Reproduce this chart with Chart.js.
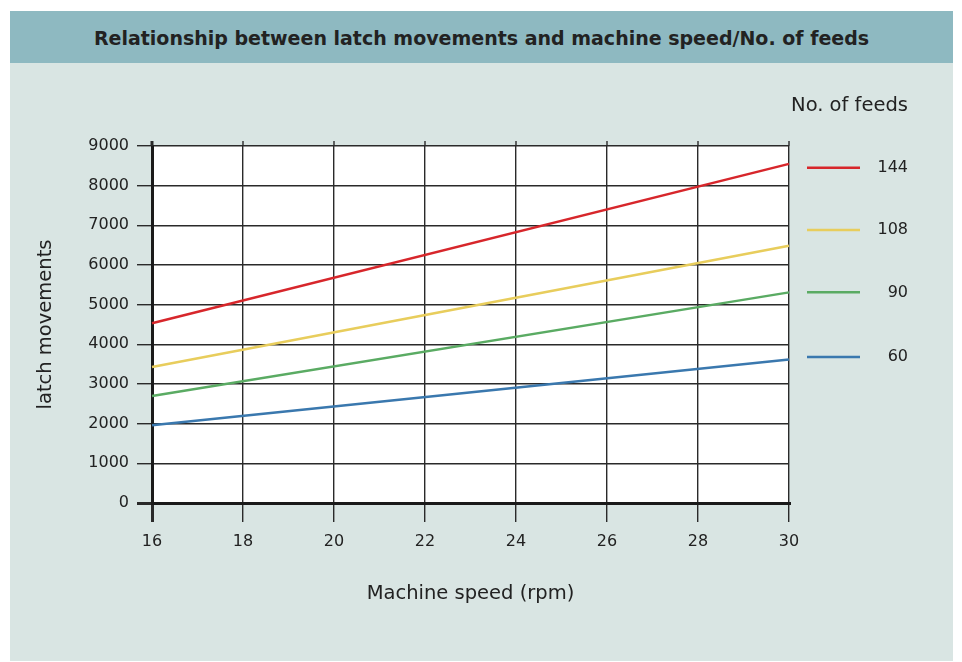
<!DOCTYPE html>
<html>
<head>
<meta charset="utf-8">
<script src="https://cdn.jsdelivr.net/npm/chart.js@4/dist/chart.umd.min.js"></script>
<style>
	body { margin: 0; background: #ffffff; }
	#panel { position: absolute; left: 10px; top: 11px; width: 943px; height: 650px; background: #d9e5e3; }
	#title-band { position: absolute; left: 0; top: 0; width: 943px; height: 52px; background: #8eb9c1;
		font: bold 19px 'DejaVu Sans', sans-serif; color: #222222; text-align: center; line-height: 54px; }
	#chart-wrap { position: absolute; left: 0; top: 0; width: 962px; height: 662px; }
</style>
</head>
<body>
<div id="panel"><div id="title-band">Relationship between latch movements and machine speed/No. of feeds</div></div>
<div id="chart-wrap"><canvas id="latch-canvas" width="962" height="662"></canvas></div>
<script>
let speeds = [16, 30];
let feed_labels = ['144', '108', '90', '60'];
let latch_144 = [4530, 8550];
let latch_108 = [3430, 6485];
let latch_90 = [2700, 5310];
let latch_60 = [1960, 3620];
let series_values = [latch_144, latch_108, latch_90, latch_60];
let line_colors = ['#d7262b', '#e8cd5c', '#5aab63', '#3a78ae'];
let x_ticks = [16, 18, 20, 22, 24, 26, 28, 30];
let y_ticks = [0, 1000, 2000, 3000, 4000, 5000, 6000, 7000, 8000, 9000];
// legend rows sit at these values on the y scale
let legend_levels = [8450, 6880, 5310, 3680];

let font_family = "'DejaVu Sans', sans-serif";
let text_color = '#222222';

let datasets = [];
for (var i = 0; i < series_values.length; i++) {
	datasets.push({
		label: feed_labels[i],
		data: speeds.map((s, j) => ({x: s, y: series_values[i][j]})),
		borderColor: line_colors[i],
		backgroundColor: line_colors[i],
		borderWidth: 2.5,
		pointRadius: 0,
		clip: false
	});
}

//white plot area, grid extensions and the side legend
let plot_extras = {
	id: 'plotExtras',
	beforeDraw: function(chart) {
		let a = chart.chartArea;
		let ctx = chart.ctx;
		ctx.save();
		ctx.fillStyle = '#ffffff';
		ctx.fillRect(a.left, a.top, a.right - a.left, a.bottom - a.top);
		ctx.restore();
	},
	afterDraw: function(chart) {
		let a = chart.chartArea;
		let ctx = chart.ctx;
		let xs = chart.scales.x;
		let ys = chart.scales.y;
		ctx.save();
		ctx.strokeStyle = '#2a2a2a';
		for (var i = 0; i < x_ticks.length; i++) {
			let px = xs.getPixelForValue(x_ticks[i]);
			ctx.lineWidth = (i == 0) ? 3 : 1.4;
			ctx.beginPath();
			ctx.moveTo(px, a.top - 5);
			ctx.lineTo(px, a.top);
			ctx.stroke();
		}
		ctx.fillStyle = text_color;
		ctx.font = '19.5px ' + font_family;
		ctx.textAlign = 'right';
		ctx.textBaseline = 'middle';
		ctx.fillText('No. of feeds', a.right + 119, 106);
		ctx.font = '16px ' + font_family;
		for (var i = 0; i < feed_labels.length; i++) {
			let py = ys.getPixelForValue(legend_levels[i]);
			ctx.strokeStyle = line_colors[i];
			ctx.lineWidth = 2.5;
			ctx.beginPath();
			ctx.moveTo(a.right + 18, py);
			ctx.lineTo(a.right + 71, py);
			ctx.stroke();
			ctx.fillText(feed_labels[i], a.right + 119, py);
		}
		ctx.restore();
	}
};

let chart = new Chart(document.getElementById('latch-canvas').getContext('2d'), {
	type: 'line',
	data: { datasets: datasets },
	plugins: [plot_extras],
	options: {
		responsive: false,
		animation: false,
		layout: { padding: { left: 30, top: 146, right: 173, bottom: 52 } },
		plugins: { legend: { display: false }, tooltip: { enabled: false } },
		scales: {
			x: {
				type: 'linear',
				min: 16,
				max: 30,
				afterBuildTicks: function(scale) { scale.ticks = x_ticks.map(v => ({value: v})); },
				afterFit: function(scale) { scale.height = 107; },
				border: { display: true, color: '#1a1a1a', width: 3 },
				grid: {
					color: '#2a2a2a',
					lineWidth: c => (c.tick && c.tick.value == 16) ? 3 : 1.4,
					tickLength: 19,
					tickColor: '#2a2a2a'
				},
				ticks: { color: text_color, font: { family: font_family, size: 16 }, padding: 10, maxRotation: 0 },
				title: { display: true, text: 'Machine speed (rpm)', color: text_color, font: { family: font_family, size: 19.5 }, padding: { top: 4, bottom: 4 } }
			},
			y: {
				min: 0,
				max: 9000,
				afterBuildTicks: function(scale) { scale.ticks = y_ticks.map(v => ({value: v})); },
				afterFit: function(scale) { scale.width = 122; },
				border: { display: true, color: '#1a1a1a', width: 3 },
				grid: {
					color: '#2a2a2a',
					lineWidth: c => (c.tick && c.tick.value == 0) ? 3 : 1.4,
					tickLength: 15,
					tickColor: '#2a2a2a'
				},
				ticks: { color: text_color, font: { family: font_family, size: 16 }, padding: 8, callback: v => String(v) },
				title: { display: true, text: 'latch movements', color: text_color, font: { family: font_family, size: 19.5 }, padding: { top: 4, bottom: 4 } }
			}
		}
	}
});
</script>
</body>
</html>
